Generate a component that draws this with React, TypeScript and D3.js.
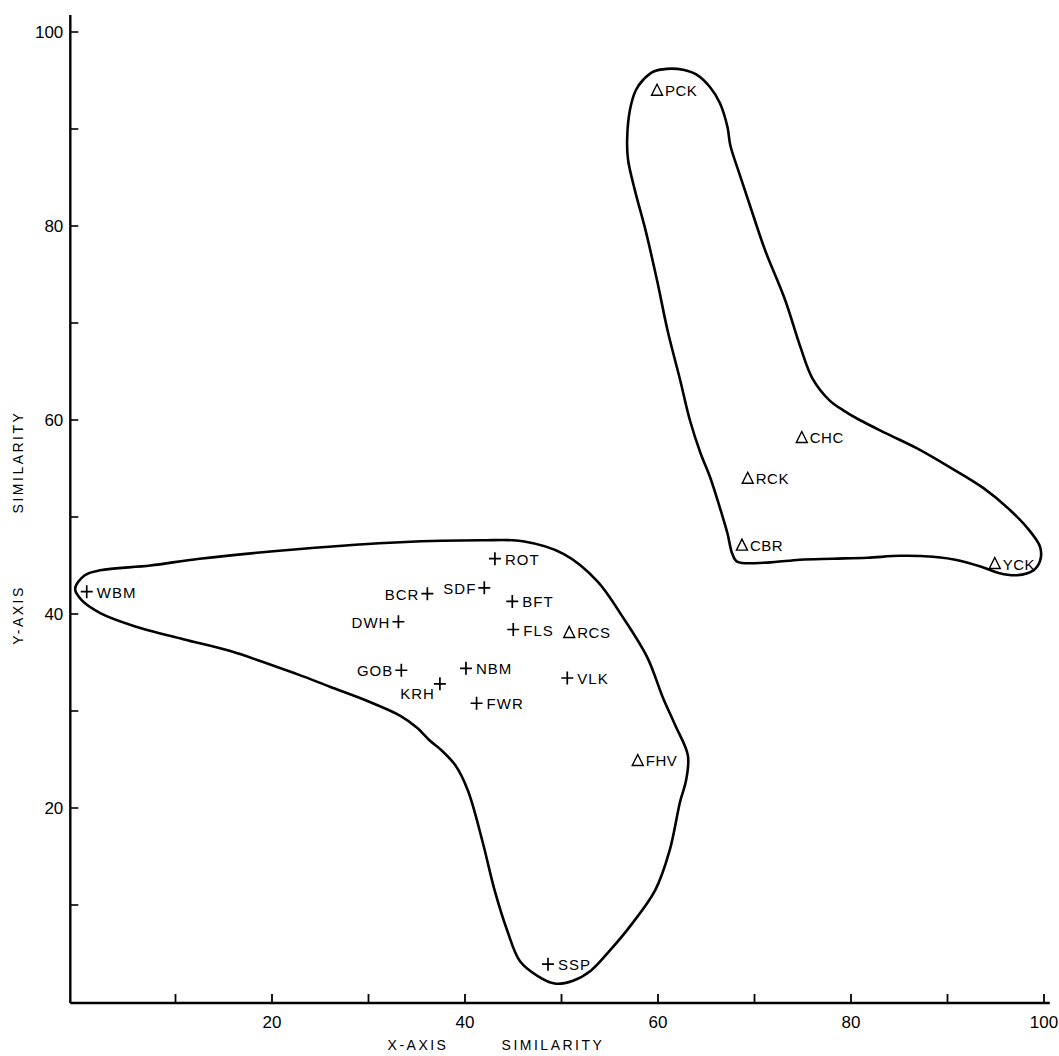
import React from "react";
import * as d3 from "d3";

// Site codes, their coordinates on the two similarity axes, marker kind and label side
const siteCodes = ["WBM", "ROT", "BCR", "SDF", "BFT", "DWH", "FLS", "RCS", "GOB", "NBM", "KRH", "VLK", "FWR", "SSP", "FHV", "PCK", "CHC", "RCK", "CBR", "YCK"];
const siteX = [0.8, 43.1, 36.1, 42.0, 44.9, 33.1, 45.0, 50.8, 33.4, 40.1, 37.4, 50.6, 41.2, 48.6, 57.9, 59.9, 74.9, 69.3, 68.7, 94.9];
const siteY = [42.3, 45.7, 42.1, 42.7, 41.3, 39.2, 38.4, 38.1, 34.2, 34.4, 32.8, 33.4, 30.8, 3.9, 24.9, 94.0, 58.2, 54.0, 47.1, 45.2];
const siteMarker = ["plus", "plus", "plus", "plus", "plus", "plus", "plus", "triangle", "plus", "plus", "plus", "plus", "plus", "plus", "triangle", "triangle", "triangle", "triangle", "triangle", "triangle"];
const labelSide = ["right", "right", "left", "left", "right", "left", "right", "right", "left", "right", "below-left", "right", "right", "right", "right", "right", "right", "right", "right", "right"];

// Outline of the lower-left group (x, y in similarity units)
const groupAOutline: [number, number][] = [
  [-0.4, 42.6], [0.6, 44.0], [2.2, 44.5], [7.4, 45.0], [12.5, 45.7], [22.9, 46.7], [33.3, 47.4],
  [41.6, 47.6], [46.0, 47.5], [50.2, 46.2], [53.7, 43.4], [56.4, 39.6], [58.9, 35.5], [60.5, 31.4],
  [61.8, 28.5], [63.1, 25.4], [62.9, 22.8], [62.3, 20.7], [61.2, 15.6], [59.7, 11.5], [57.1, 7.8],
  [55.0, 5.3], [53.0, 3.2], [51.2, 2.2], [49.3, 1.9], [47.5, 2.7], [45.7, 4.2], [44.4, 7.3],
  [43.1, 11.4], [41.8, 16.6], [40.3, 21.8], [39.0, 24.4], [37.4, 26.1], [36.4, 26.9], [35.0, 28.3],
  [33.3, 29.5], [30.2, 30.9], [26.0, 32.5], [22.6, 33.8], [15.6, 36.2], [10.8, 37.4], [5.6, 38.8],
  [2.2, 40.1], [0.3, 41.4],
];

// Outline of the upper-right group
const groupBOutline: [number, number][] = [
  [56.8, 88.9], [57.1, 92.0], [57.7, 94.0], [58.4, 95.0], [59.5, 95.9], [60.9, 96.2], [62.6, 96.1],
  [64.0, 95.6], [65.4, 94.3], [66.4, 92.7], [67.2, 90.2], [67.5, 88.3], [68.5, 85.2], [69.7, 81.6],
  [71.1, 77.5], [73.2, 72.3], [74.7, 67.7], [76.0, 64.3], [77.8, 62.0], [79.2, 61.0], [80.9, 60.0],
  [83.7, 58.6], [86.8, 57.1], [90.3, 55.1], [93.7, 53.0], [96.5, 50.7], [98.5, 48.6], [99.6, 46.9],
  [99.6, 45.5], [98.9, 44.5], [97.2, 44.0], [95.4, 44.2], [93.7, 44.8], [91.3, 45.5], [88.5, 45.9],
  [85.1, 46.0], [81.7, 45.8], [78.1, 45.7], [74.7, 45.6], [71.3, 45.3], [68.2, 45.4], [67.7, 46.2],
  [67.2, 48.3], [66.4, 51.0], [65.4, 54.1], [64.4, 56.6], [63.3, 60.0], [62.3, 64.1], [61.0, 69.2],
  [59.9, 74.4], [58.7, 79.6], [57.6, 83.7], [56.9, 86.8],
];

const xTickValues = [10, 20, 30, 40, 50, 60, 70, 80, 90, 100];
const yTickValues = [10, 20, 30, 40, 50, 60, 70, 80, 90, 100];
const labeledTicks = [20, 40, 60, 80, 100];
const xTitleParts = ["X-AXIS", "SIMILARITY"];
const yTitleParts = ["Y-AXIS", "SIMILARITY"];

const W = 1059;
const H = 1056;
const FONT = "'Liberation Sans', Arial, Helvetica, sans-serif";

export default function App() {
  const x = d3.scaleLinear().domain([0, 100]).range([79, 1044]);
  const y = d3.scaleLinear().domain([0, 100]).range([1002, 32]);

  const axisX = x(-0.9);
  const axisY = y(-0.1);

  const outline = d3
    .line<[number, number]>()
    .x((d) => x(d[0]))
    .y((d) => y(d[1]))
    .curve(d3.curveCatmullRomClosed.alpha(0.5));

  const points = siteCodes.map((code, i) => ({
    code,
    px: x(siteX[i]),
    py: y(siteY[i]),
    marker: siteMarker[i],
    side: labelSide[i],
  }));

  return (
    <svg
      width={W}
      height={H}
      viewBox={`0 0 ${W} ${H}`}
      style={{ position: "absolute", left: 0, top: 0, background: "#fff" }}
    >
      <rect width={W} height={H} fill="#fff" />

      {/* axes */}
      <line x1={axisX} x2={axisX} y1={15} y2={axisY} stroke="#000" strokeWidth={2.4} />
      <line x1={axisX} x2={x(100.6)} y1={axisY} y2={axisY} stroke="#000" strokeWidth={2.4} />

      {yTickValues.map((v) => (
        <line key={`yt${v}`} x1={axisX} x2={axisX + 8} y1={y(v)} y2={y(v)} stroke="#000" strokeWidth={1.6} />
      ))}
      {xTickValues.map((v) => (
        <line key={`xt${v}`} x1={x(v)} x2={x(v)} y1={axisY} y2={axisY - 9} stroke="#000" strokeWidth={1.8} />
      ))}

      {labeledTicks.map((v) => (
        <text
          key={`yl${v}`}
          x={axisX - 7}
          y={y(v)}
          dy="0.36em"
          textAnchor="end"
          fontFamily={FONT}
          fontSize={17}
          fill="#000"
        >
          {v}
        </text>
      ))}
      {labeledTicks.map((v) => (
        <text
          key={`xl${v}`}
          x={x(v)}
          y={axisY + 25}
          textAnchor="middle"
          fontFamily={FONT}
          fontSize={17}
          fill="#000"
        >
          {v}
        </text>
      ))}

      {/* axis titles */}
      <text x={418} y={1050} textAnchor="middle" fontFamily={FONT} fontSize={14} letterSpacing={2.5} fill="#000">
        {xTitleParts[0]}
      </text>
      <text x={553} y={1050} textAnchor="middle" fontFamily={FONT} fontSize={14} letterSpacing={2.5} fill="#000">
        {xTitleParts[1]}
      </text>
      <g transform="translate(23,0) rotate(-90)">
        <text x={-615} y={0} textAnchor="middle" fontFamily={FONT} fontSize={14} letterSpacing={2.5} fill="#000">
          {yTitleParts[0]}
        </text>
        <text x={-462} y={0} textAnchor="middle" fontFamily={FONT} fontSize={14} letterSpacing={2.5} fill="#000">
          {yTitleParts[1]}
        </text>
      </g>

      {/* group outlines */}
      <path d={outline(groupAOutline) ?? ""} fill="none" stroke="#000" strokeWidth={2.6} strokeLinejoin="round" />
      <path d={outline(groupBOutline) ?? ""} fill="none" stroke="#000" strokeWidth={2.6} strokeLinejoin="round" />

      {/* sites */}
      {points.map((p) => {
        const isPlus = p.marker === "plus";
        const mark = isPlus ? (
          <path
            d={`M${p.px - 6},${p.py}H${p.px + 6}M${p.px},${p.py - 6.5}V${p.py + 6.5}`}
            stroke="#000"
            strokeWidth={1.7}
            fill="none"
          />
        ) : (
          <path
            d={`M${p.px - 5.5},${p.py + 5}L${p.px + 5.5},${p.py + 5}L${p.px},${p.py - 6}Z`}
            stroke="#000"
            strokeWidth={1.4}
            fill="none"
            strokeLinejoin="miter"
          />
        );
        let tx = p.px + (isPlus ? 10 : 8);
        let ty = p.py + 6;
        let anchor: "start" | "end" = "start";
        if (p.side === "left") {
          tx = p.px - 8;
          anchor = "end";
        } else if (p.side === "below-left") {
          tx = p.px - 5;
          ty = p.py + 15;
          anchor = "end";
        }
        return (
          <g key={p.code}>
            {mark}
            <text
              x={tx}
              y={ty}
              textAnchor={anchor}
              fontFamily={FONT}
              fontSize={15}
              letterSpacing={isPlus ? 1 : 0.5}
              fill="#000"
            >
              {p.code}
            </text>
          </g>
        );
      })}
    </svg>
  );
}
